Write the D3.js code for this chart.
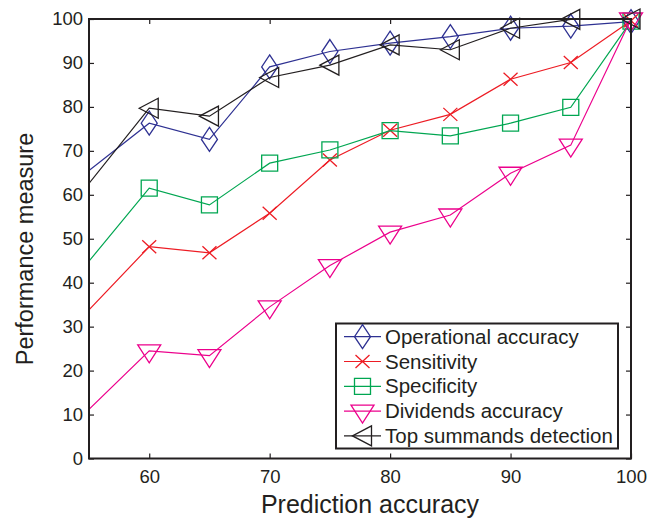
<!DOCTYPE html>
<html>
<head>
<meta charset="utf-8">
<script src="https://cdn.jsdelivr.net/npm/d3@7"></script>
<style>
  body { margin: 0; background: #fff; }
  text { font-family: "Liberation Sans", Arial, sans-serif; fill: #231f20; }
</style>
</head>
<body>
<svg id="canvas" width="659" height="520"></svg>
<script>
// x values (prediction accuracy)
const xVals = [55, 60, 65, 70, 75, 80, 85, 90, 95, 100];
const xTicks = [60, 70, 80, 90, 100];
const yTicks = [0, 10, 20, 30, 40, 50, 60, 70, 80, 90, 100];

const operational = [65.5, 76.3, 72.6, 89.1, 92.6, 94.5, 96.0, 97.9, 98.4, 99.4];
const sensitivity = [33.8, 48.2, 46.8, 55.8, 67.9, 74.7, 78.3, 86.3, 90.1, 99.6];
const specificity = [44.9, 61.5, 57.7, 67.2, 70.2, 74.6, 73.4, 76.3, 79.9, 99.5];
const dividends   = [11.2, 24.5, 23.4, 34.5, 43.9, 51.5, 55.4, 64.9, 71.3, 100];
const topSummands = [62.6, 79.7, 77.9, 86.7, 89.5, 94.1, 93.0, 97.9, 99.9, 100];

const seriesNames = ["Operational accuracy", "Sensitivity", "Specificity", "Dividends accuracy", "Top summands detection"];
const seriesColors = ["#2e3192", "#ed1c24", "#00a651", "#ec008c", "#231f20"];
const seriesMarkers = ["diamond", "x", "square", "down", "left"];

let series = [operational, sensitivity, specificity, dividends, topSummands].map((vals, i) => ({
    name: seriesNames[i], color: seriesColors[i], marker: seriesMarkers[i],
    points: vals.map((v, j) => [xVals[j], v])
}));

let svg = d3.select("#canvas");
let pLeft = 89, pRight = 631, pTop = 19, pBottom = 458.5;

let x = d3.scaleLinear().domain([55, 100]).range([pLeft, pRight]);
let y = d3.scaleLinear().domain([0, 100]).range([pBottom, pTop]);

// marker path drawn around 0,0
function markerPath(type){
    switch(type){
        case "diamond": return "M0,-12L8,0L0,12L-8,0Z";
        case "x": return "M-7,-6.5L7,6.5M-7,6.5L7,-6.5";
        case "square": return "M-8,-8H8V8H-8Z";
        case "down": return "M-11.5,-6H11.5L0,12Z";
        case "left": return "M-10,0L9,-10V10Z";
    }
}

svg.append("clipPath").attr("id", "clip")
    .append("rect").attr("x", pLeft).attr("y", pTop - 20).attr("width", pRight - pLeft + 20).attr("height", pBottom - pTop + 20);

let line = d3.line().x(d => x(d[0])).y(d => y(d[1]));

series.forEach(s => {
    let g = svg.append("g").attr("clip-path", "url(#clip)");
    g.append("path").attr("d", line(s.points))
        .attr("fill", "none").attr("stroke", s.color).attr("stroke-width", 1.2);
    g.selectAll("path.m").data(s.points.slice(1)).enter()
        .append("path").attr("class", "m")
        .attr("transform", d => "translate(" + x(d[0]) + "," + y(d[1]) + ")")
        .attr("d", markerPath(s.marker))
        .attr("fill", "none").attr("stroke", s.color).attr("stroke-width", 1.3);
});

// axes with inward ticks
let xAxis = svg.append("g").attr("transform", "translate(0," + pBottom + ")")
    .call(d3.axisBottom(x).tickValues(xTicks).tickSizeInner(-5).tickSizeOuter(0).tickPadding(11));
let xTop = svg.append("g").attr("transform", "translate(0," + pTop + ")")
    .call(d3.axisTop(x).tickValues(xTicks).tickSizeInner(-5).tickSizeOuter(0).tickFormat(""));
let yAxis = svg.append("g").attr("transform", "translate(" + pLeft + ",0)")
    .call(d3.axisLeft(y).tickValues(yTicks).tickSizeInner(-5).tickSizeOuter(0).tickPadding(6));
let yRight = svg.append("g").attr("transform", "translate(" + pRight + ",0)")
    .call(d3.axisRight(y).tickValues(yTicks).tickSizeInner(-5).tickSizeOuter(0).tickFormat(""));

[xAxis, xTop, yAxis, yRight].forEach(a => {
    a.select(".domain").remove();
    a.selectAll(".tick line").attr("stroke", "#231f20").attr("stroke-width", 1.2);
    a.selectAll(".tick text").attr("font-size", 18.5).attr("font-family", "Liberation Sans, Arial, sans-serif").attr("fill", "#231f20");
});

svg.append("rect").attr("x", pLeft).attr("y", pTop).attr("width", pRight - pLeft).attr("height", pBottom - pTop)
    .attr("fill", "none").attr("stroke", "#231f20").attr("stroke-width", 2);

// axis titles
svg.append("text").attr("x", 370).attr("y", 513).attr("text-anchor", "middle")
    .attr("font-size", 25).text("Prediction accuracy");
svg.append("text").attr("transform", "translate(33,249) rotate(-90)").attr("text-anchor", "middle")
    .attr("font-size", 23.5).text("Performance measure");

// legend
let legend = svg.append("g");
legend.append("rect").attr("x", 336).attr("y", 323.5).attr("width", 282).attr("height", 125)
    .attr("fill", "#fff").attr("stroke", "#231f20").attr("stroke-width", 2);
let rows = legend.selectAll("g.row").data(series).enter().append("g").attr("class", "row")
    .attr("transform", (d, i) => "translate(0," + (336.7 + i * 24.8) + ")");
rows.append("line").attr("x1", 344).attr("x2", 381).attr("y1", 0).attr("y2", 0)
    .attr("stroke", d => d.color).attr("stroke-width", 1.2);
rows.append("path").attr("transform", "translate(362.5,0)")
    .attr("d", d => markerPath(d.marker))
    .attr("fill", "none").attr("stroke", d => d.color).attr("stroke-width", 1.3);
rows.append("text").attr("x", 385).attr("y", 0).attr("dy", "0.35em")
    .attr("font-size", 20.5).text(d => d.name);
</script>
</body>
</html>
